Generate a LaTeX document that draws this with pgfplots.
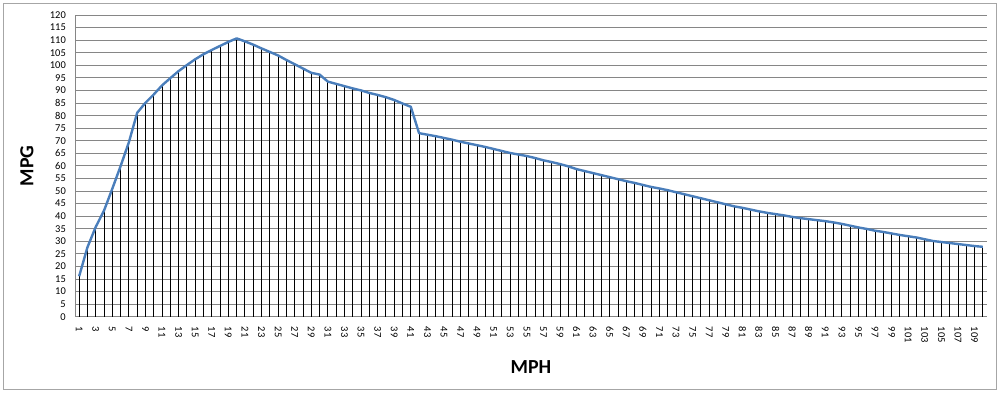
\documentclass[border=0pt]{standalone}
\usepackage{pgfplots}
\pgfplotsset{compat=1.18}
\usepackage{pgfplotstable}
\usepackage{fontspec}
\setmainfont{Carlito}
\definecolor{xlblue}{RGB}{74,126,187}
\definecolor{gridgray}{RGB}{134,134,134}
\pgfplotstableread{
x y
1 16.1
2 27.6
3 35.7
4 42.2
5 50.9
6 59.9
7 69.4
8 81.1
9 85.1
10 88.4
11 92.0
12 94.9
13 97.7
14 100.1
15 102.4
16 104.4
17 106.1
18 107.7
19 109.3
20 110.7
21 109.5
22 108.2
23 106.7
24 105.3
25 103.9
26 102.1
27 100.4
28 98.7
29 97.0
30 96.3
31 93.5
32 92.6
33 91.7
34 90.8
35 90.0
36 89.0
37 88.2
38 87.3
39 86.2
40 84.8
41 83.5
42 73.0
43 72.4
44 71.8
45 71.1
46 70.4
47 69.6
48 68.9
49 68.2
50 67.5
51 66.7
52 65.9
53 65.1
54 64.5
55 63.9
56 63.1
57 62.2
58 61.5
59 60.7
60 59.8
61 58.7
62 57.9
63 57.1
64 56.3
65 55.5
66 54.7
67 53.9
68 53.2
69 52.4
70 51.6
71 51.0
72 50.3
73 49.5
74 48.7
75 47.9
76 47.1
77 46.3
78 45.5
79 44.7
80 43.9
81 43.3
82 42.6
83 41.9
84 41.3
85 40.8
86 40.3
87 39.7
88 39.2
89 38.8
90 38.4
91 38.0
92 37.5
93 36.9
94 36.2
95 35.5
96 34.9
97 34.2
98 33.7
99 33.1
100 32.5
101 32.0
102 31.5
103 30.8
104 30.1
105 29.7
106 29.3
107 28.9
108 28.5
109 28.1
110 27.8
}\mpgdata
\begin{document}
\begin{tikzpicture}[x=1bp,y=1bp]
\path[use as bounding box] (0,0) rectangle (1000,393);
\fill[white] (0,0) rectangle (1000,393);
\draw[gray!70, line width=1bp] (3.5,3.5) rectangle (996.5,389.5);
\begin{axis}[
  at={(75bp,76.3bp)}, anchor=south west,
  scale only axis, width=912bp, height=301.7bp,
  xmin=0.5, xmax=110.5, ymin=0, ymax=120,
  axis x line*=bottom, axis y line*=left,
  axis line style={gridgray, line width=1bp, -},
  ytick distance=5,
  xtick={1,3,...,109},
  major tick length=0pt,
  ymajorgrids, grid style={gridgray, line width=0.9bp},
  /pgf/number format/assume math mode=true,
  tick label style={font=\fontsize{10.5}{12}\selectfont},
  yticklabel style={anchor=east, inner sep=0pt, xshift=-9bp},
  xticklabel style={rotate=-90, anchor=west, inner sep=0pt},
  xticklabel shift=10bp,
  xlabel={MPH}, ylabel={MPG},
  label style={font=\fontsize{20}{22}\selectfont\bfseries},
  xlabel style={at={(axis description cs:0.5,-0.167)}, anchor=center},
  ylabel style={at={(axis description cs:-0.0526,0.5)}, anchor=center},
  clip=false,
]
\addplot[ycomb, black, line width=1bp, mark=none] table[x=x,y=y] {\mpgdata};
\addplot[xlblue, line width=2.4bp, mark=none, line join=round] table[x=x,y=y] {\mpgdata};
\end{axis}
\end{tikzpicture}
\end{document}
